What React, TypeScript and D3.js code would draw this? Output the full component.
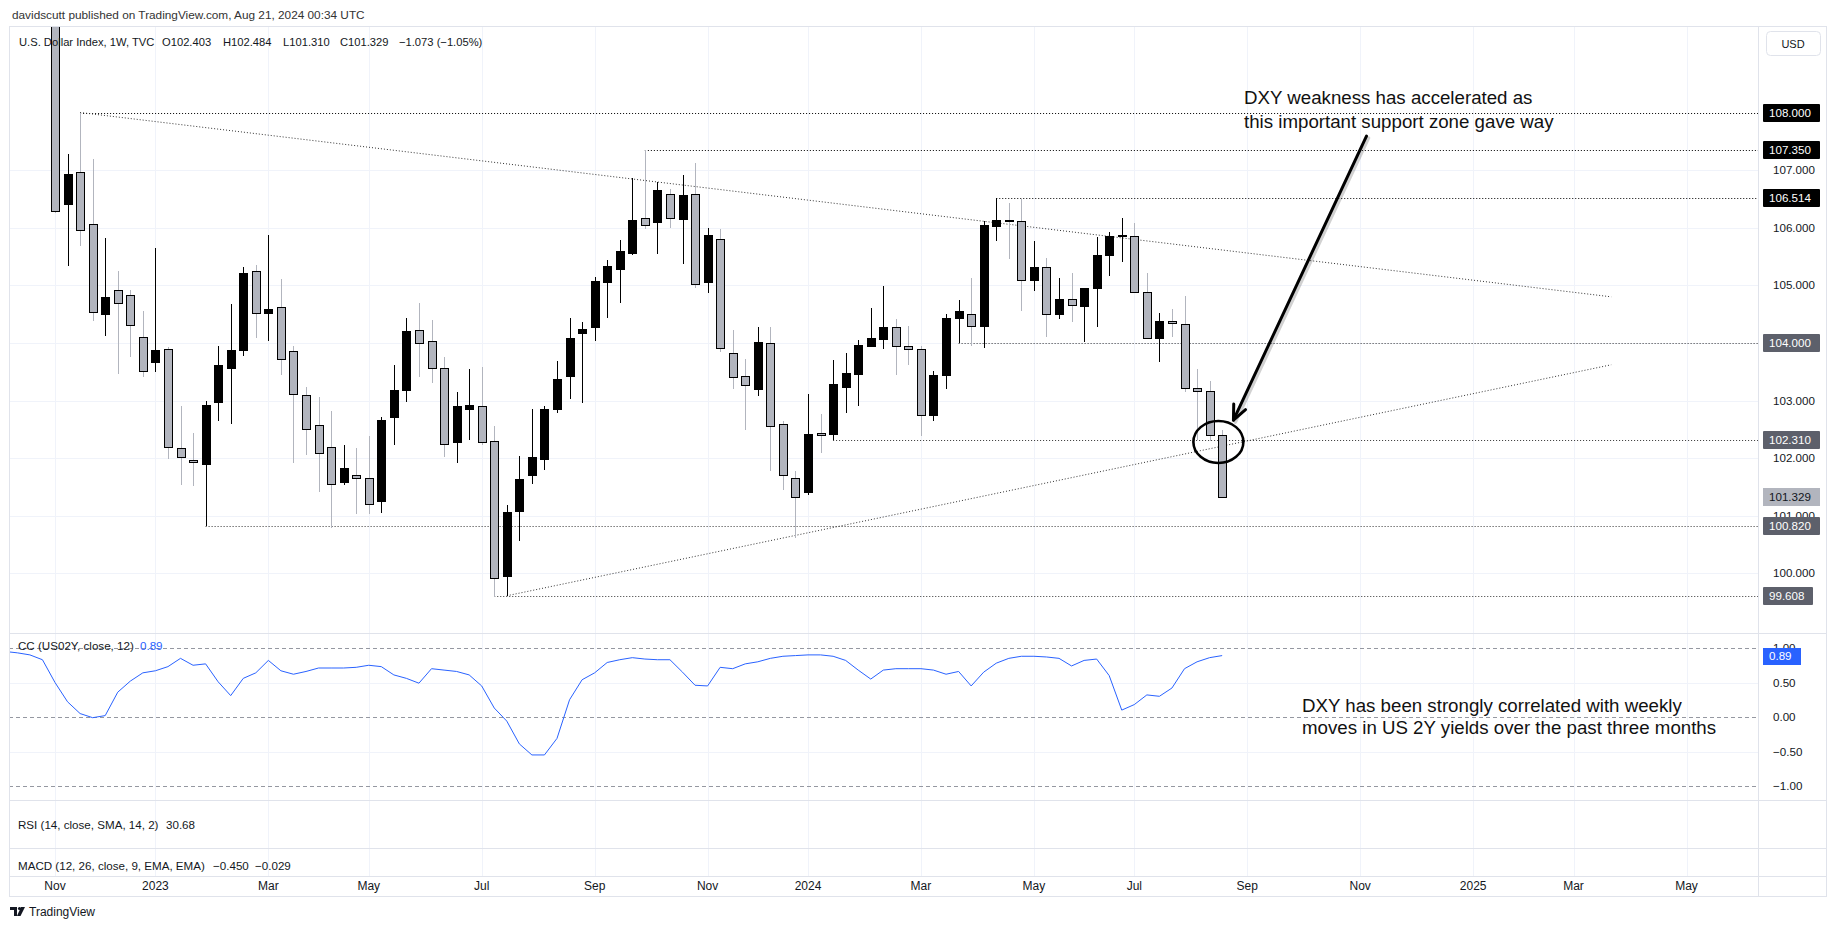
import React from 'react';
import * as d3 from 'd3';

// ---------- DATA ----------
// Weekly candles, bar 0 = week of Nov 7 2022, bar 93 = week of Aug 19 2024
const opens = [110.70,106.41,106.96,106.07,104.51,104.92,104.84,104.11,103.66,103.90,102.17,101.97,101.90,102.98,103.57,103.88,105.25,104.52,104.63,103.86,103.10,102.58,102.19,101.58,101.71,101.66,101.26,102.72,103.19,104.23,104.03,103.56,102.28,102.86,102.91,102.29,99.95,101.08,101.70,101.99,102.85,103.43,104.18,104.27,105.06,105.29,105.56,106.17,106.10,106.59,106.15,106.59,105.06,105.81,103.82,103.42,103.20,103.99,102.59,101.66,101.41,102.43,102.42,103.24,103.46,103.95,104.07,104.27,103.95,103.89,102.74,103.44,104.44,104.50,104.30,106.03,106.14,106.11,105.09,105.32,104.50,104.77,104.64,104.96,105.53,105.85,105.86,104.88,104.09,104.38,104.33,103.21,103.16,102.403];
const highs = [110.95,107.28,108.00,107.20,105.82,105.25,104.92,104.56,105.64,103.93,102.90,102.44,103.00,103.95,104.67,105.32,105.35,105.88,105.11,103.95,103.23,103.06,102.81,102.22,102.18,102.39,102.72,103.62,104.43,104.69,104.40,103.75,103.15,103.54,103.58,102.56,101.19,102.04,102.85,102.91,103.69,104.44,104.36,105.15,105.44,105.78,106.87,107.35,106.80,106.68,106.91,107.12,106.00,105.97,104.22,103.72,104.27,104.27,102.64,101.78,103.12,102.77,103.70,103.82,104.05,104.60,104.99,104.41,104.29,103.95,103.51,104.51,104.75,105.12,106.12,106.51,106.43,106.49,105.77,105.48,105.13,105.21,104.96,105.83,105.93,106.16,106.08,105.22,104.52,104.58,104.82,103.55,103.33,102.484];
const lows = [106.25,105.34,105.69,104.38,104.12,103.46,103.75,103.40,103.49,101.99,101.54,101.51,100.82,102.64,102.59,103.77,104.09,104.04,103.45,101.92,102.05,101.42,100.79,101.54,101.03,101.03,101.05,102.22,102.98,103.40,103.30,102.02,101.92,102.31,102.23,99.58,99.61,100.56,101.55,101.79,102.78,103.02,102.95,104.04,104.44,104.69,105.53,105.97,105.54,106.00,105.37,104.96,104.86,103.84,103.20,102.48,103.07,101.78,101.44,100.62,101.36,102.09,102.31,102.78,102.91,103.95,103.90,103.45,103.62,102.38,102.65,103.20,104.00,103.94,103.91,105.77,105.45,104.55,104.90,104.10,104.42,104.36,104.01,104.27,105.16,105.40,104.87,104.07,103.66,104.10,103.14,102.31,102.30,101.310];
const closes = [106.29,106.93,105.96,104.54,104.80,104.69,104.31,103.52,103.87,102.20,102.02,101.93,102.92,103.62,103.87,105.22,104.52,104.58,103.72,103.11,102.50,102.08,101.55,101.83,101.65,101.20,102.67,103.19,104.20,104.00,103.56,102.24,102.90,102.92,102.28,99.91,101.07,101.63,102.02,102.85,103.37,104.08,104.24,105.08,105.33,105.59,106.13,106.05,106.66,106.16,106.56,105.02,105.87,103.92,103.40,103.27,104.01,102.56,101.70,101.33,102.42,102.40,103.29,103.47,103.96,104.08,104.27,103.95,103.89,102.75,103.45,104.44,104.56,104.30,106.04,106.14,106.11,105.10,105.32,104.50,104.77,104.65,104.95,105.53,105.85,105.87,104.89,104.09,104.38,104.34,103.22,103.17,102.40,101.329];

// Correlation coefficient (US02Y, close, 12); first value belongs to bar -4
const ccStartBar = -4;
const ccValues = [0.95,0.93,0.90,0.83,0.50,0.22,0.05,-0.01,0.02,0.36,0.52,0.64,0.67,0.73,0.85,0.75,0.77,0.51,0.31,0.56,0.64,0.82,0.67,0.62,0.66,0.71,0.71,0.71,0.72,0.75,0.73,0.61,0.56,0.49,0.70,0.68,0.66,0.61,0.45,0.13,-0.06,-0.39,-0.55,-0.55,-0.31,0.25,0.54,0.64,0.79,0.83,0.86,0.84,0.83,0.83,0.65,0.46,0.45,0.72,0.70,0.77,0.80,0.85,0.88,0.89,0.90,0.90,0.88,0.82,0.68,0.55,0.68,0.70,0.70,0.70,0.68,0.62,0.66,0.45,0.65,0.78,0.85,0.88,0.88,0.87,0.85,0.74,0.82,0.84,0.60,0.10,0.18,0.32,0.30,0.42,0.70,0.80,0.86,0.89];

const timeTickLabels = ['Nov','2023','Mar','May','Jul','Sep','Nov','2024','Mar','May','Jul','Sep','Nov','2025','Mar','May'];
const timeTickBars = [0,8,17,25,34,43,52,60,69,78,86,95,104,113,121,130];

const priceTicks = [100,101,102,103,104,105,106,107];
const ccTicks = [1,0.5,0,-0.5,-1];
const ccDashedTicks = [1,0,-1];

const levelValues = [108.0,107.35,106.514,104.0,102.31,100.82,99.608];
const levelStartBars = [2,47,75,72,62,12,35];
const levelStrong = [true,true,true,false,false,false,false];

// trend lines: [bar1, price1, bar2, price2]
const trendLines = [[2,108.0,124,104.8],[36,99.61,124,103.62]];

const lastPrice = 101.329;
const lastCC = 0.89;

// annotation anchors in (bar, price)
const arrowFrom = [104.5,107.59];
const arrowTo = [93.9,102.66];
const circleCenter = [92.7,102.28];

// ---------- LAYOUT ----------
const FL = 9, FR = 1826, FT = 26, FB = 896;
const PR = 1758;
const PRICE_BOTTOM = 633, CC_BOTTOM = 800, RSI_BOTTOM = 848, MACD_BOTTOM = 876;
const FONT = '"Liberation Sans", Arial, sans-serif';
const TXT = '#131722';
const GRID = '#f0f3fa';
const SEP = '#e0e3eb';
const DOWN = '#b2b5be';

export default function App() {
  const x = d3.scaleLinear().domain([0, 130]).range([55, 55 + 130 * 12.55]);
  const y = d3.scaleLinear().domain([100, 108]).range([573.3, 112.5]);
  const yc = d3.scaleLinear().domain([-1, 1]).range([786, 648]);

  const ccLine = d3.line<number>()
    .x((_, k) => x(k + ccStartBar))
    .y((d) => yc(d));

  const candles = opens.map((o, i) => {
    const c = closes[i];
    const up = c > o;
    const cx = Math.round(x(i));
    const top = Math.round(y(Math.max(o, c)));
    const bot = Math.round(y(Math.min(o, c)));
    const hy = Math.round(y(highs[i]));
    const ly = Math.round(y(lows[i]));
    const col = up ? '#000' : DOWN;
    return (
      <g key={i}>
        <line x1={cx + 0.5} x2={cx + 0.5} y1={hy} y2={ly} stroke={col} strokeWidth={1} />
        <rect x={cx - 4 + 0.5} y={top + 0.5} width={8} height={Math.max(1, bot - top)}
          fill={up ? '#000' : DOWN} stroke="#000" strokeWidth={1} />
      </g>
    );
  });

  const ax = x(arrowFrom[0]), ay = y(arrowFrom[1]);
  const bx = x(arrowTo[0]), by = y(arrowTo[1]);
  const ang = Math.atan2(by - ay, bx - ax);
  const headLen = 16, headAng = 0.42;
  const h1 = [bx - headLen * Math.cos(ang - headAng), by - headLen * Math.sin(ang - headAng)];
  const h2 = [bx - headLen * Math.cos(ang + headAng), by - headLen * Math.sin(ang + headAng)];

  const labelBox = (v: number, yy: number, bg: string, fg: string, key: string, w = 57) => (
    <g key={key}>
      <rect x={1763} y={Math.round(yy) - 9} width={w} height={18} fill={bg} rx={1} />
      <text x={1769} y={yy} dy="0.35em" fill={fg} fontSize={11.6} fontFamily={FONT}>{v.toFixed(3)}</text>
    </g>
  );

  // tick texts fully hidden by a level label are not drawn
  const visiblePriceTicks = priceTicks.filter((p) => !levelValues.some((v) => Math.abs(v - p) < 0.05));

  return (
    <svg width={1835} height={931} style={{ position: 'absolute', left: 0, top: 0, background: '#fff' }}
      xmlns="http://www.w3.org/2000/svg">
      <defs>
        <clipPath id="pricePane"><rect x={FL} y={FT} width={PR - FL} height={PRICE_BOTTOM - FT} /></clipPath>
        <clipPath id="ccPane"><rect x={FL} y={PRICE_BOTTOM} width={PR - FL} height={CC_BOTTOM - PRICE_BOTTOM} /></clipPath>
      </defs>
      <rect x={0} y={0} width={1835} height={931} fill="#fff" />

      {/* header */}
      <text x={12} y={15} dy="0.35em" fontSize={11.8} fill="#333" fontFamily={FONT}>
        davidscutt published on TradingView.com, Aug 21, 2024 00:34 UTC
      </text>

      {/* grid */}
      <g>
        {timeTickBars.map((b, k) => (
          <line key={'vg' + k} x1={Math.round(x(b)) + 0.5} x2={Math.round(x(b)) + 0.5} y1={FT} y2={MACD_BOTTOM} stroke={GRID} />
        ))}
        {priceTicks.map((p) => (
          <line key={'hg' + p} x1={FL} x2={PR} y1={Math.round(y(p)) + 0.5} y2={Math.round(y(p)) + 0.5} stroke={GRID} />
        ))}
        {[0.5, -0.5].map((p) => (
          <line key={'cg' + p} x1={FL} x2={PR} y1={Math.round(yc(p)) + 0.5} y2={Math.round(yc(p)) + 0.5} stroke={GRID} />
        ))}
      </g>

      {/* price pane */}
      <g clipPath="url(#pricePane)">
        {levelValues.map((v, k) => (
          <line key={'lv' + k} x1={x(levelStartBars[k])} x2={PR} y1={Math.round(y(v)) + 0.5} y2={Math.round(y(v)) + 0.5}
            stroke={levelStrong[k] ? '#000' : '#333'} strokeWidth={1} strokeDasharray="1,2" />
        ))}
        {trendLines.map((t, k) => (
          <line key={'tl' + k} x1={x(t[0])} y1={y(t[1])} x2={x(t[2])} y2={y(t[3])}
            stroke="#333" strokeWidth={1} strokeDasharray="1,2" />
        ))}
        {candles}
        {/* circle and arrow */}
        <ellipse cx={x(circleCenter[0])} cy={y(circleCenter[1])} rx={25} ry={21} fill="none" stroke="#000" strokeWidth={2.6} />
        <g stroke="rgba(0,0,0,0.18)" strokeWidth={3.5} strokeLinecap="round" fill="none" transform="translate(2,2)">
          <line x1={ax} y1={ay} x2={bx} y2={by} />
        </g>
        <g stroke="#000" strokeWidth={3} strokeLinecap="round" fill="none">
          <line x1={ax} y1={ay} x2={bx} y2={by} />
          <polyline points={`${h1[0]},${h1[1]} ${bx},${by} ${h2[0]},${h2[1]}`} strokeLinejoin="round" />
        </g>
      </g>

      {/* legend over price */}
      <g fontFamily={FONT} fontSize={11.2} fill={TXT}>
        <text x={19} y={42} dy="0.35em">U.S. Dollar Index, 1W, TVC</text>
        <text x={162} y={42} dy="0.35em">O102.403</text>
        <text x={223} y={42} dy="0.35em">H102.484</text>
        <text x={283} y={42} dy="0.35em">L101.310</text>
        <text x={340} y={42} dy="0.35em">C101.329</text>
        <text x={399} y={42} dy="0.35em">−1.073 (−1.05%)</text>
      </g>

      {/* annotations */}
      <g fontFamily={FONT} fontSize={18.7} fill="#111">
        <text x={1244} y={97} dy="0.35em">DXY weakness has accelerated as</text>
        <text x={1244} y={121} dy="0.35em">this important support zone gave way</text>
        <text x={1302} y={705} dy="0.35em">DXY has been strongly correlated with weekly</text>
        <text x={1302} y={727} dy="0.35em">moves in US 2Y yields over the past three months</text>
      </g>

      {/* CC pane */}
      {ccDashedTicks.map((p) => (
        <line key={'cd' + p} x1={FL} x2={PR} y1={Math.round(yc(p)) + 0.5} y2={Math.round(yc(p)) + 0.5}
          stroke="#9598a1" strokeDasharray="4,3" />
      ))}
      <g clipPath="url(#ccPane)">
        <path d={ccLine(ccValues) || ''} fill="none" stroke="#2962ff" strokeWidth={1} />
      </g>
      <g fontFamily={FONT} fontSize={11.6}>
        <text x={18} y={646} dy="0.35em" fill={TXT}>CC (US02Y, close, 12)</text>
        <text x={140} y={646} dy="0.35em" fill="#2962ff">0.89</text>
        <text x={18} y={825} dy="0.35em" fill={TXT}>RSI (14, close, SMA, 14, 2)</text>
        <text x={166} y={825} dy="0.35em" fill={TXT}>30.68</text>
        <text x={18} y={866} dy="0.35em" fill={TXT}>MACD (12, 26, close, 9, EMA, EMA)</text>
        <text x={213} y={866} dy="0.35em" fill={TXT}>−0.450</text>
        <text x={255} y={866} dy="0.35em" fill={TXT}>−0.029</text>
      </g>

      {/* pane separators & frame */}
      <line x1={FL} x2={FR} y1={PRICE_BOTTOM + 0.5} y2={PRICE_BOTTOM + 0.5} stroke={SEP} />
      <line x1={FL} x2={FR} y1={CC_BOTTOM + 0.5} y2={CC_BOTTOM + 0.5} stroke={SEP} />
      <line x1={FL} x2={FR} y1={RSI_BOTTOM + 0.5} y2={RSI_BOTTOM + 0.5} stroke={SEP} />
      <line x1={FL} x2={FR} y1={MACD_BOTTOM + 0.5} y2={MACD_BOTTOM + 0.5} stroke={SEP} />
      <line x1={PR + 0.5} x2={PR + 0.5} y1={FT} y2={FB} stroke={SEP} />
      <rect x={FL + 0.5} y={FT + 0.5} width={FR - FL} height={FB - FT} fill="none" stroke={SEP} />

      {/* price axis */}
      <g fontFamily={FONT} fontSize={11.6} fill={TXT}>
        {visiblePriceTicks.map((p) => (
          <text key={'pt' + p} x={1773} y={y(p)} dy="0.35em">{p.toFixed(3)}</text>
        ))}
        {ccTicks.map((p) => (
          <text key={'ct' + p} x={1773} y={yc(p)} dy="0.35em">{(p < 0 ? '−' : '') + Math.abs(p).toFixed(2)}</text>
        ))}
      </g>
      {levelValues.map((v, k) =>
        labelBox(v, y(v), levelStrong[k] ? '#000' : '#5d606b', '#fff', 'lb' + k, v < 100 ? 50 : 57))}
      <g>
        <rect x={1763} y={Math.round(y(lastPrice)) - 9} width={57} height={18} fill="#b2b5be" />
        <text x={1769} y={y(lastPrice)} dy="0.35em" fill={TXT} fontSize={11.6} fontFamily={FONT}>{lastPrice.toFixed(3)}</text>
      </g>
      <g>
        <rect x={1763} y={Math.round(yc(lastCC)) - 8} width={38} height={17} fill="#2962ff" />
        <text x={1769} y={yc(lastCC)} dy="0.4em" fill="#fff" fontSize={11.6} fontFamily={FONT}>{lastCC.toFixed(2)}</text>
      </g>
      <g>
        <rect x={1766.5} y={31.5} width={54} height={24} rx={4} fill="#fff" stroke={SEP} />
        <text x={1793} y={44} dy="0.35em" textAnchor="middle" fontSize={11} fill={TXT} fontFamily={FONT}>USD</text>
      </g>

      {/* time axis */}
      <g fontFamily={FONT} fontSize={12} fill={TXT}>
        {timeTickBars.map((b, k) => (
          <text key={'tt' + k} x={x(b)} y={886} dy="0.35em" textAnchor="middle">{timeTickLabels[k]}</text>
        ))}
      </g>

      {/* TradingView logo */}
      <g transform="translate(10,907)">
        <path d="M0 0 H7 V9 H4 V3 H0 Z" fill="#131722" />
        <circle cx={9.5} cy={1.5} r={1.6} fill="#131722" />
        <path d="M11 0 H15 L10.5 9 H7 Z" fill="#131722" />
        <text x={19} y={5} dy="0.35em" fontSize={12} fill={TXT} fontFamily={FONT}>TradingView</text>
      </g>
    </svg>
  );
}
